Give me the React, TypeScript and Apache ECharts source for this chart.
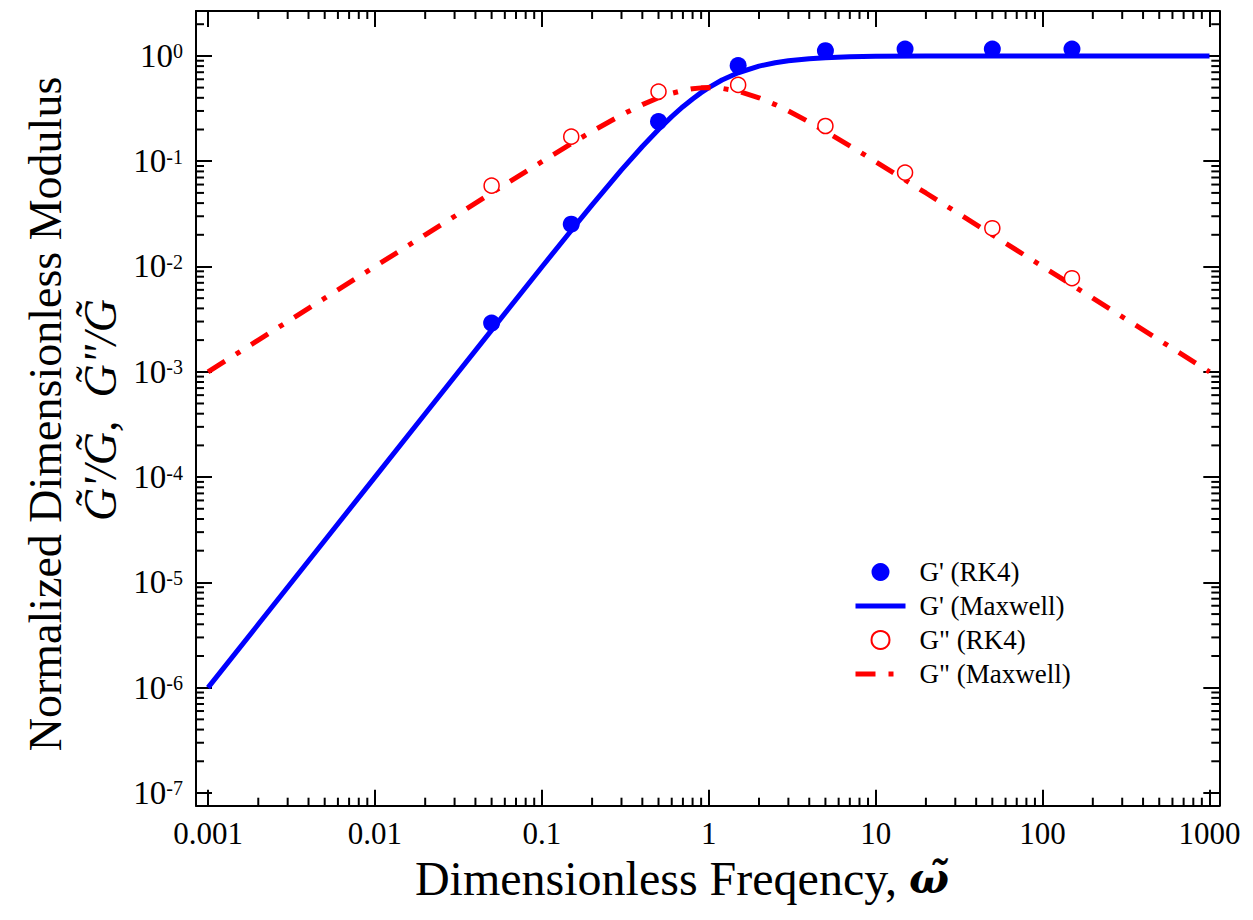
import React, { useEffect, useRef } from "react";
import * as echarts from "echarts";

// ---------- data ----------
const omegaCurve = [0.001, 0.002, 0.005, 0.01, 0.02, 0.05, 0.1, 0.15, 0.2, 0.3, 0.4, 0.5, 0.6, 0.7, 0.8, 0.9, 1, 1.2, 1.5, 2, 2.5, 3, 4, 5, 7, 10, 20, 50, 100, 200, 500, 1000];
const gPrimeMaxwell = [1.0e-6, 4.0e-6, 2.5e-5, 1.0e-4, 4.0e-4, 0.00249, 0.0099, 0.022, 0.0385, 0.0826, 0.138, 0.2, 0.265, 0.329, 0.39, 0.448, 0.5, 0.59, 0.692, 0.8, 0.862, 0.9, 0.941, 0.962, 0.98, 0.99, 0.9975, 0.9996, 0.9999, 1, 1, 1];
const gDoublePrimeMaxwell = [0.001, 0.002, 0.005, 0.01, 0.02, 0.0499, 0.099, 0.1467, 0.1923, 0.2752, 0.3448, 0.4, 0.4412, 0.4698, 0.4878, 0.4972, 0.5, 0.4918, 0.4615, 0.4, 0.3448, 0.3, 0.2353, 0.1923, 0.14, 0.099, 0.0499, 0.02, 0.01, 0.005, 0.002, 0.001];

const omegaRK4 = [0.05, 0.15, 0.5, 1.5, 5, 15, 50, 150];
const gPrimeRK4 = [0.0029, 0.0252, 0.238, 0.81, 1.12, 1.16, 1.16, 1.16];
const gDoublePrimeRK4 = [0.0586, 0.171, 0.458, 0.53, 0.216, 0.078, 0.0231, 0.00774];

const seriesNames = ["G' (RK4)", "G' (Maxwell)", 'G" (RK4)', 'G" (Maxwell)'];

// axis extents and tick definitions
const X_MIN = 0.000847;
const X_MAX = 1145;
const Y_MIN = 7.57e-8;
const Y_MAX = 2.67;
const MINOR_MULTIPLIERS = [2, 3, 4, 5, 6, 7, 8, 9];
const X_DECADES = [0.001, 0.01, 0.1, 1, 10, 100];
const Y_DECADES = [1e-7, 1e-6, 1e-5, 1e-4, 1e-3, 1e-2, 1e-1, 1];

const yTitle = "Normalized Dimensionless Modulus";
const yTitle2 = "G\u0303'/G\u0303,  G\u0303\"/G\u0303";
const xTitle = "Dimensionless Freqency, ";
const xTitleSymbol = "\u03C9\u0303";

const FONT = "'Liberation Serif', 'Times New Roman', 'DejaVu Serif', serif";

const pair = (xs: number[], ys: number[]) => xs.map((x, i) => [x, ys[i]]);

const isPow10 = (v: number) => {
  const l = Math.log10(v);
  return Math.abs(l - Math.round(l)) < 1e-6;
};

const xMinorData = X_DECADES.flatMap((d) => MINOR_MULTIPLIERS.map((m) => [m * d, 1]));
const yMinorData = Y_DECADES.flatMap((d) => MINOR_MULTIPLIERS.map((m) => m * d))
  .filter((v) => v < Y_MAX)
  .map((v) => [1, v]);

const MAJOR = 16;
const MINOR = 8;
const tickStyle = { stroke: "#000", lineWidth: 2 };

export default function App() {
  const ref = useRef<HTMLDivElement>(null);
  useEffect(() => {
    const chart = echarts.init(ref.current!, null, { renderer: "svg" });

    const xAxisBase = {
      type: "log",
      min: X_MIN,
      max: X_MAX,
      logBase: 10,
      axisLine: { show: true, onZero: false, lineStyle: { color: "#000", width: 2 } },
      axisTick: { show: true, inside: true, length: MAJOR, lineStyle: { color: "#000", width: 2 } },
      splitLine: { show: false },
      minorTick: { show: false },
    };
    const yAxisBase = {
      type: "log",
      min: Y_MIN,
      max: Y_MAX,
      logBase: 10,
      axisLine: { show: true, onZero: false, lineStyle: { color: "#000", width: 2 } },
      axisTick: { show: true, inside: true, length: MAJOR, lineStyle: { color: "#000", width: 2 } },
      splitLine: { show: false },
      minorTick: { show: false },
    };

    const hideSymbol = { color: "rgba(0,0,0,0)", borderWidth: 0 };

    const option: any = {
      animation: false,
      backgroundColor: "#ffffff",
      grid: { left: 196, top: 11, right: 33.7, bottom: 114.3, containLabel: false, outerBoundsMode: "none" },
      xAxis: [
        {
          ...xAxisBase,
          position: "bottom",
          axisLabel: {
            show: true,
            margin: 15,
            color: "#000",
            fontFamily: FONT,
            fontSize: 31,
            lineHeight: 26,
            formatter: (v: number) => {
              if (!isPow10(v)) return "";
              const p = Math.round(Math.log10(v));
              return p < 0 ? Math.pow(10, p).toFixed(-p) : String(Math.round(Math.pow(10, p)));
            },
          },
        },
        { ...xAxisBase, position: "top", axisLabel: { show: false } },
      ],
      yAxis: [
        {
          ...yAxisBase,
          position: "left",
          axisLabel: {
            show: true,
            margin: 13,
            color: "#000",
            fontFamily: FONT,
            formatter: (v: number) => {
              if (!isPow10(v)) return "";
              const p = Math.round(Math.log10(v));
              return `{b|10}{s|${p}}`;
            },
            rich: {
              b: { fontFamily: FONT, fontSize: 33, lineHeight: 33, color: "#000", padding: [13, 0, 0, 0], verticalAlign: "bottom" },
              s: { fontFamily: FONT, fontSize: 20, lineHeight: 20, color: "#000", padding: [2, 0, 0, 0], verticalAlign: "top" },
            },
          },
        },
        { ...yAxisBase, position: "right", axisLabel: { show: false } },
      ],
      legend: {
        data: [
          { name: seriesNames[0] },
          { name: seriesNames[1], itemStyle: hideSymbol },
          { name: seriesNames[2] },
          { name: seriesNames[3], itemStyle: hideSymbol },
        ],
        orient: "vertical",
        left: 853,
        top: 558.5,
        padding: 0,
        itemWidth: 50,
        itemHeight: 18,
        itemGap: 7,
        selectedMode: false,
        lineStyle: { width: 5 },
        textStyle: { fontFamily: FONT, fontSize: 27, lineHeight: 27, color: "#000", padding: [0, 0, 0, 9] },
      },
      series: [
        {
          name: "__xminor",
          type: "custom",
          silent: true,
          data: xMinorData,
          renderItem: (params: any, api: any) => {
            const px = api.coord([api.value(0), 1])[0];
            const cs = params.coordSys;
            return {
              type: "group",
              children: [
                { type: "line", shape: { x1: px, y1: cs.y + cs.height, x2: px, y2: cs.y + cs.height - MINOR }, style: tickStyle },
                { type: "line", shape: { x1: px, y1: cs.y, x2: px, y2: cs.y + MINOR }, style: tickStyle },
              ],
            };
          },
        },
        {
          name: "__yminor",
          type: "custom",
          silent: true,
          data: yMinorData,
          renderItem: (params: any, api: any) => {
            const py = api.coord([1, api.value(1)])[1];
            const cs = params.coordSys;
            return {
              type: "group",
              children: [
                { type: "line", shape: { x1: cs.x, y1: py, x2: cs.x + MINOR, y2: py }, style: tickStyle },
                { type: "line", shape: { x1: cs.x + cs.width, y1: py, x2: cs.x + cs.width - MINOR, y2: py }, style: tickStyle },
              ],
            };
          },
        },
        {
          name: seriesNames[1],
          type: "line",
          data: pair(omegaCurve, gPrimeMaxwell),
          symbol: "none",
          smooth: false,
          lineStyle: { color: "#0000ff", width: 5 },
          itemStyle: { color: "#0000ff" },
          z: 3,
        },
        {
          name: seriesNames[3],
          type: "line",
          data: pair(omegaCurve, gDoublePrimeMaxwell),
          symbol: "none",
          smooth: false,
          lineStyle: { color: "#ff0000", width: 5, type: [20, 13, 5, 13] },
          itemStyle: { color: "#ff0000" },
          z: 3,
        },
        {
          name: seriesNames[0],
          type: "scatter",
          data: pair(omegaRK4, gPrimeRK4),
          symbol: "circle",
          symbolSize: 17,
          itemStyle: { color: "#0000ff", opacity: 1 },
          z: 4,
        },
        {
          name: seriesNames[2],
          type: "scatter",
          data: pair(omegaRK4, gDoublePrimeRK4),
          symbol: "circle",
          symbolSize: 15,
          itemStyle: { color: "#ffffff", borderColor: "#ff0000", borderWidth: 1.5, opacity: 1 },
          z: 4,
        },
      ],
      graphic: {
        elements: [
          {
            type: "text",
            x: 45,
            y: 414,
            rotation: Math.PI / 2,
            style: { text: yTitle, fontFamily: FONT, fontSize: 46, fill: "#000", align: "center", verticalAlign: "middle" },
          },
          {
            type: "text",
            x: 100,
            y: 410,
            rotation: Math.PI / 2,
            style: { text: yTitle2, fontFamily: FONT, fontSize: 46, fontStyle: "italic", fill: "#000", align: "center", verticalAlign: "middle" },
          },
          {
            type: "text",
            x: 682,
            y: 878,
            style: {
              text: `{n|${xTitle}}{w|${xTitleSymbol}}`,
              align: "center",
              verticalAlign: "middle",
              rich: {
                n: { fontFamily: FONT, fontSize: 48, lineHeight: 40, color: "#000" },
                w: { fontFamily: "'DejaVu Serif', serif", fontSize: 42, lineHeight: 40, fontStyle: "italic", fontWeight: "bold", color: "#000" },
              },
            },
          },
        ],
      },
    };

    chart.setOption(option);
    return () => chart.dispose();
  }, []);

  return (
    <div
      ref={ref}
      style={{ position: "fixed", left: 0, top: 0, width: 1253, height: 920, background: "#fff" }}
    />
  );
}
